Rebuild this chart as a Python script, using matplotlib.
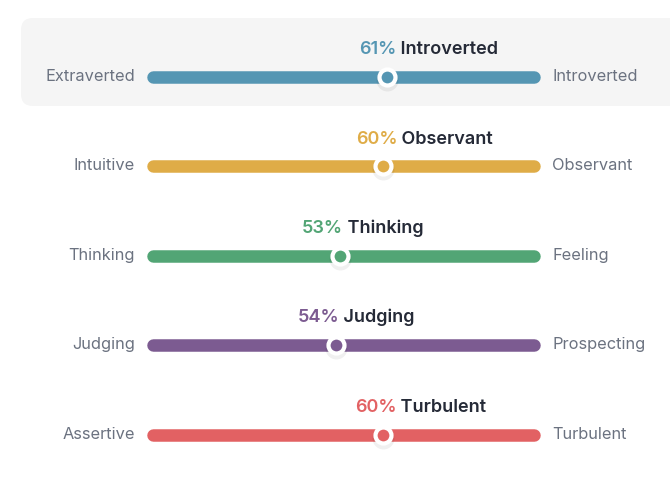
import matplotlib.pyplot as plt
from matplotlib.patches import FancyBboxPatch

# trait data
left_labels = ['Extraverted', 'Intuitive', 'Thinking', 'Judging', 'Assertive']
right_labels = ['Introverted', 'Observant', 'Feeling', 'Prospecting', 'Turbulent']
shown_pct = [61, 60, 53, 54, 60]
shown_trait = ['Introverted', 'Observant', 'Thinking', 'Judging', 'Turbulent']
marker_pos = [61, 60, 49, 48, 60]   # where the knob sits, % from the left end
colors = ['#5596b3', '#dfac47', '#52a575', '#7c5b91', '#e26163']

plt.rcParams['font.family'] = ['Inter', 'DejaVu Sans']

fig = plt.figure(figsize=(6.7, 5.0), dpi=100)
ax = fig.add_axes([0, 0, 1, 1])
ax.set_xlim(0, 670)
ax.set_ylim(500, 0)
ax.axis('off')

px = 72 / 100  # points per pixel
bar_x0, bar_x1 = 147, 540
row_y0, row_gap = 76.5, 89.5
title_off = [-28, -27, -38, -38, -28]  # left edge of title relative to knob

# highlighted first row
ax.add_patch(FancyBboxPatch((21, 18), 660, 88, boxstyle='round,pad=0,rounding_size=12',
                            fc='#f5f5f5', ec='none', zorder=0))

for i in range(len(left_labels)):
    y = row_y0 + i * row_gap
    c = colors[i]
    ax.plot([bar_x0 + 6, bar_x1 - 6], [y, y], color=c, lw=12.5 * px,
            solid_capstyle='round', zorder=2)
    mx = bar_x0 + (bar_x1 - bar_x0) * marker_pos[i] / 100
    # soft shadow under the knob
    ax.plot(mx, y + 3, 'o', ms=22 * px, color='#000000', alpha=0.06, mec='none', zorder=3)
    ax.plot(mx, y, 'o', ms=16 * px, mfc=c, mec='white', mew=4.2 * px, zorder=4)

    ax.text(135, y, left_labels[i], ha='right', va='center', fontsize=11.8,
            color='#6b7280')
    ax.text(552, y, right_labels[i], ha='left', va='center', fontsize=11.8,
            color='#6b7280')

    t = ax.text(mx + title_off[i], y - 27, '%d%%' % shown_pct[i], ha='left',
                va='center', fontsize=13, fontweight='semibold', color=c)
    ax.annotate(' ' + shown_trait[i], xy=(1, 0), xycoords=t, ha='left', va='bottom',
                fontsize=13, fontweight='semibold', color='#252a37')

fig.savefig('out.png', dpi=100, facecolor='white')
